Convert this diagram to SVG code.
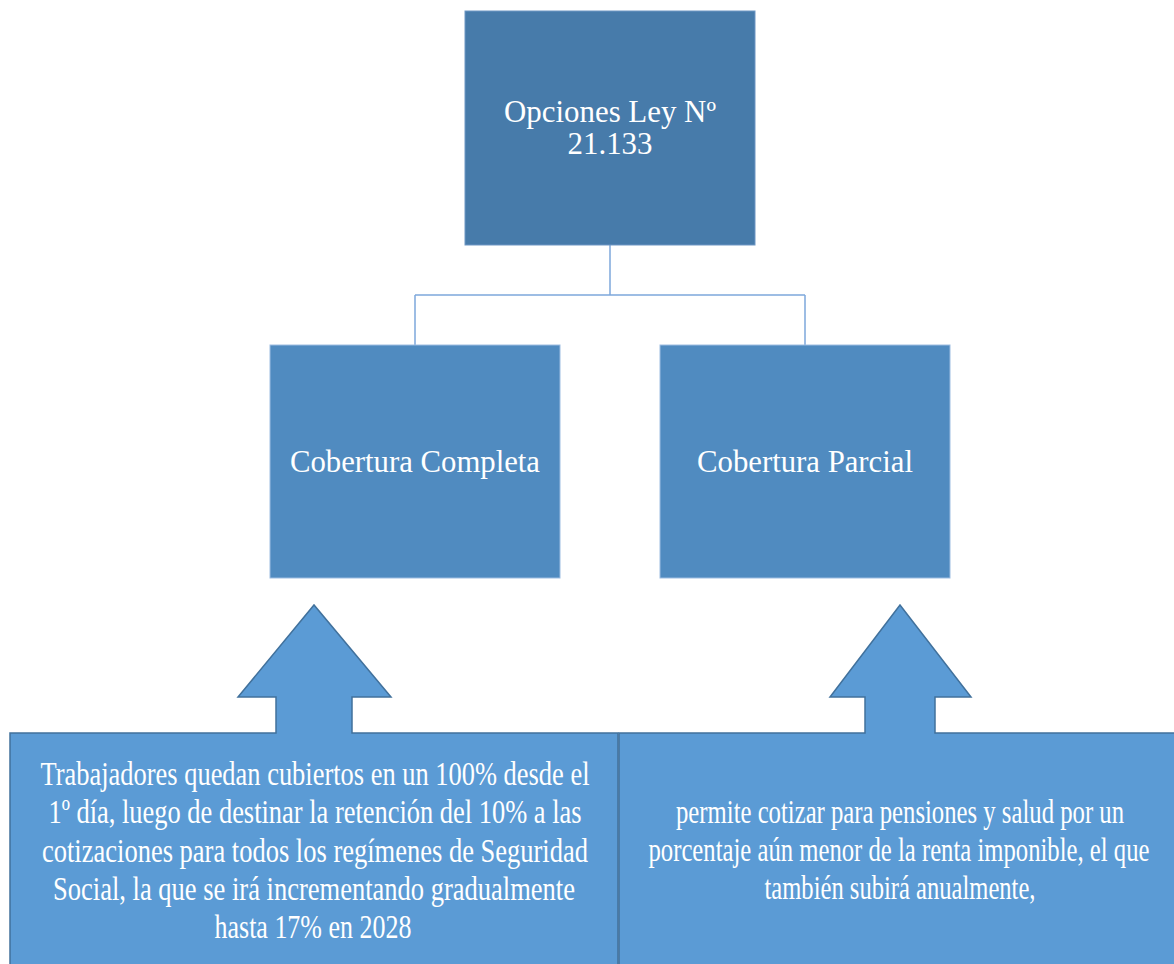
<svg xmlns="http://www.w3.org/2000/svg" width="1174" height="964" viewBox="0 0 1174 964">
<style>
.t{font-family:"Liberation Serif","Times New Roman",serif;fill:#ffffff;text-anchor:middle}
.big{font-size:31px}
.small{font-size:33px}
.conn{stroke:#7EA8DC;stroke-width:1.5;fill:none}
.callout{fill:#5B9BD5;stroke:#41719C;stroke-width:1.5}
</style>
<rect width="1174" height="964" fill="#ffffff"/>
<g id="connectors">
<path class="conn" d="M610,245 V295 M415,295 H805 M415,295 V345 M805,295 V345"/>
</g>
<g id="node-root">
<rect x="465" y="11" width="290" height="234" fill="#477BAA" stroke="#6E97C4" stroke-width="1"/>
<text class="t big" x="610" y="122" textLength="212" lengthAdjust="spacingAndGlyphs">Opciones Ley Nº</text>
<text class="t big" x="610" y="154" textLength="85" lengthAdjust="spacingAndGlyphs">21.133</text>
</g>
<g id="node-completa">
<rect x="270" y="345" width="290" height="233" fill="#508BC0" stroke="#9DBDE2" stroke-width="1"/>
<text class="t big" x="415" y="472" textLength="250" lengthAdjust="spacingAndGlyphs">Cobertura Completa</text>
</g>
<g id="node-parcial">
<rect x="660" y="345" width="290" height="233" fill="#508BC0" stroke="#9DBDE2" stroke-width="1"/>
<text class="t big" x="805" y="472" textLength="216" lengthAdjust="spacingAndGlyphs">Cobertura Parcial</text>
</g>
<g id="callout-completa">
<path class="callout" d="M10,733 H276 V697 H238 L314,605 L391,697 H352 V733 H618 V972 H10 Z"/>
<text class="t small" x="315" y="785" textLength="549" lengthAdjust="spacingAndGlyphs">Trabajadores quedan cubiertos en un 100% desde el</text>
<text class="t small" x="315" y="823" textLength="533" lengthAdjust="spacingAndGlyphs">1º día, luego de destinar la retención del 10% a las</text>
<text class="t small" x="315" y="862" textLength="546" lengthAdjust="spacingAndGlyphs">cotizaciones para todos los regímenes de Seguridad</text>
<text class="t small" x="314" y="900" textLength="522" lengthAdjust="spacingAndGlyphs">Social, la que se irá incrementando gradualmente</text>
<text class="t small" x="313" y="938" textLength="197" lengthAdjust="spacingAndGlyphs">hasta 17% en 2028</text>
</g>
<g id="callout-parcial">
<path class="callout" d="M619,733 H865 V697 H830 L900,605 L971,697 H935 V733 H1180 V972 H619 Z"/>
<text class="t small" x="900" y="823" textLength="448" lengthAdjust="spacingAndGlyphs">permite cotizar para pensiones y salud por un</text>
<text class="t small" x="899" y="861" textLength="501" lengthAdjust="spacingAndGlyphs">porcentaje aún menor de la renta imponible, el que</text>
<text class="t small" x="900" y="899" textLength="271" lengthAdjust="spacingAndGlyphs">también subirá anualmente,</text>
</g>
</svg>
